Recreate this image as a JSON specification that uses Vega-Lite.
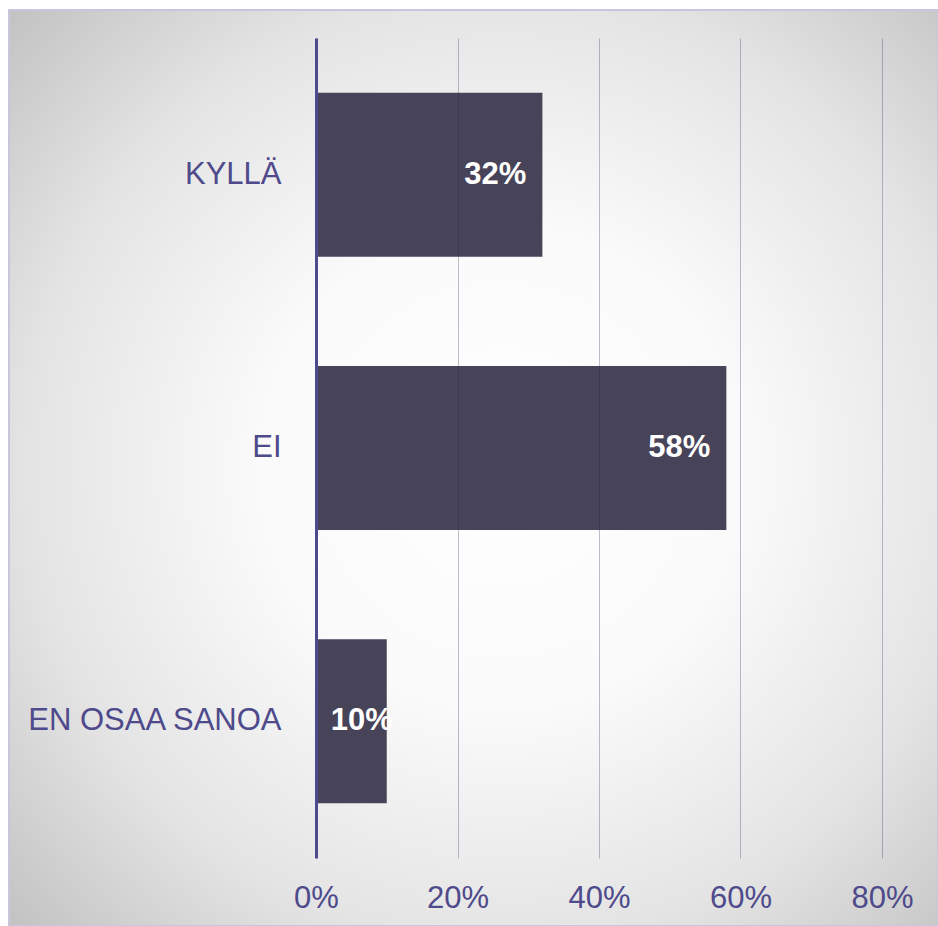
{
  "$schema": "https://vega.github.io/schema/vega-lite/v6.json",
  "width": 929,
  "height": 916,
  "autosize": {"type": "none"},
  "padding": {"left": 9, "top": 10, "right": 0, "bottom": 0},
  "background": "#ffffff",
  "config": {
    "font": "Liberation Sans",
    "view": {
      "fill": {
        "gradient": "radial",
        "x1": 0.53, "y1": 0.5, "r1": 0,
        "x2": 0.53, "y2": 0.5, "r2": 0.75,
        "stops": [
          {"offset": 0, "color": "#ffffff"},
          {"offset": 0.35, "color": "#fafafa"},
          {"offset": 0.68, "color": "#e4e4e4"},
          {"offset": 1, "color": "#bebebe"}
        ]
      },
      "stroke": "#c9c5dd",
      "strokeWidth": 2
    }
  },
  "data": {
    "values": [
      {"answer": "KYLLÄ", "share": 0.32},
      {"answer": "EI", "share": 0.58},
      {"answer": "EN OSAA SANOA", "share": 0.10}
    ]
  },
  "encoding": {
    "y": {
      "field": "answer",
      "type": "nominal",
      "sort": null,
      "scale": {
        "domain": ["KYLLÄ", "EI", "EN OSAA SANOA"],
        "range": [28, 848],
        "paddingInner": 0.4,
        "paddingOuter": 0.2
      },
      "axis": {
        "title": null,
        "orient": "left",
        "offset": -307,
        "domain": true,
        "domainColor": "#4f4a8e",
        "domainWidth": 3,
        "ticks": false,
        "grid": false,
        "labelPadding": 35,
        "labelFontSize": 31,
        "labelFont": "Liberation Sans",
        "labelColor": "#4e4a8b",
        "labelLimit": 500,
        "zindex": 2
      }
    },
    "x": {
      "field": "share",
      "type": "quantitative",
      "scale": {"domain": [0, 0.8], "range": [307, 873], "nice": false},
      "axis": {
        "title": null,
        "orient": "top",
        "values": [0, 0.2, 0.4, 0.6, 0.8],
        "format": ".0%",
        "domain": false,
        "ticks": false,
        "tickSize": 0,
        "labelPadding": -897,
        "labelBaseline": "alphabetic",
        "labelFlush": false,
        "labelFontSize": 31,
        "labelFont": "Liberation Sans",
        "labelColor": "#4e4a8b",
        "grid": true,
        "gridColor": "#2a2850",
        "gridOpacity": 0.3,
        "gridWidth": 1,
        "zindex": 1
      }
    }
  },
  "layer": [
    {
      "mark": {"type": "bar", "color": "#474359"}
    },
    {
      "transform": [{"filter": "datum.share >= 0.2"}],
      "mark": {
        "type": "text",
        "align": "right",
        "baseline": "middle",
        "dx": -16,
        "font": "Liberation Sans",
        "fontSize": 31,
        "fontWeight": "bold",
        "color": "#ffffff"
      },
      "encoding": {
        "text": {"field": "share", "type": "quantitative", "format": ".0%"}
      }
    },
    {
      "transform": [{"filter": "datum.share < 0.2"}],
      "mark": {
        "type": "text",
        "align": "right",
        "baseline": "middle",
        "dx": 6,
        "font": "Liberation Sans",
        "fontSize": 31,
        "fontWeight": "bold",
        "color": "#ffffff"
      },
      "encoding": {
        "text": {"field": "share", "type": "quantitative", "format": ".0%"}
      }
    }
  ]
}
